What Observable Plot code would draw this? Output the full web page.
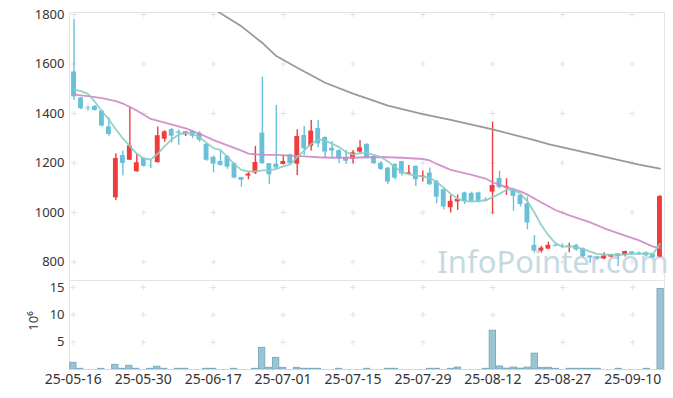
<!DOCTYPE html>
<html><head><meta charset="utf-8">
<script src="https://cdn.jsdelivr.net/npm/d3@7"></script>
<script src="https://cdn.jsdelivr.net/npm/@observablehq/plot@0.6"></script>
<style>
html,body{margin:0;padding:0;background:#fff;}
#chart{position:relative;width:673px;height:398px;overflow:hidden;font-family:"Noto Sans",sans-serif;}
#chart svg{position:absolute;left:0;overflow:visible;}
</style></head><body><div id="chart"></div>
<script>
const dates = ["25-05-16","25-05-19","25-05-20","25-05-21","25-05-22","25-05-23","25-05-26","25-05-27","25-05-28","25-05-29",
"25-05-30","25-06-02","25-06-04","25-06-05","25-06-09","25-06-10","25-06-11","25-06-12","25-06-13","25-06-16",
"25-06-17","25-06-18","25-06-19","25-06-20","25-06-23","25-06-24","25-06-25","25-06-26","25-06-27","25-06-30",
"25-07-01","25-07-02","25-07-03","25-07-04","25-07-07","25-07-08","25-07-09","25-07-10","25-07-11","25-07-14",
"25-07-15","25-07-16","25-07-17","25-07-18","25-07-21","25-07-22","25-07-23","25-07-24","25-07-25","25-07-28",
"25-07-29","25-07-30","25-07-31","25-08-01","25-08-04","25-08-05","25-08-06","25-08-07","25-08-08","25-08-11",
"25-08-12","25-08-13","25-08-14","25-08-18","25-08-19","25-08-20","25-08-21","25-08-22","25-08-25","25-08-26",
"25-08-27","25-08-28","25-08-29","25-09-01","25-09-02","25-09-03","25-09-04","25-09-05","25-09-08","25-09-09",
"25-09-10","25-09-11","25-09-12","25-09-15","25-09-16"];
const open = [1568,1463,1422,1428,1409,1346,1059,1230,1211,1164,
1218,1190,1201,1296,1335,1325,1314,1327,1320,1275,
1223,1206,1226,1197,1141,1147,1159,1321,1197,1195,
1194,1233,1195,1311,1267,1339,1303,1260,1250,1221,
1215,1244,1275,1226,1199,1179,1194,1205,1155,1186,
1142,1159,1125,1092,1019,1042,1079,1077,1079,1051,
1082,1137,1098,1093,1069,1035,867,844,852,867,
866,864,867,853,824,820,812,820,832,828,
840,837,837,829,820];
const high = [1781,1465,1430,1432,1413,1383,1237,1248,1426,1237,
1221,1211,1345,1330,1339,1333,1327,1331,1326,1278,
1228,1250,1230,1200,1142,1163,1267,1547,1198,1432,
1230,1235,1334,1347,1372,1372,1306,1287,1253,1250,
1250,1291,1278,1230,1206,1183,1197,1207,1190,1189,
1167,1180,1129,1096,1069,1071,1082,1082,1082,1059,
1365,1167,1136,1098,1073,1062,907,863,880,871,
873,876,871,856,825,823,837,830,834,843,
842,840,840,833,1067];
const low = [1452,1415,1410,1410,1345,1308,1048,1147,1210,1163,
1183,1178,1200,1284,1281,1271,1307,1298,1284,1207,
1160,1187,1174,1136,1102,1132,1153,1194,1113,1170,
1193,1194,1149,1230,1248,1261,1221,1221,1197,1194,
1197,1234,1217,1194,1170,1113,1132,1146,1153,1105,
1123,1109,1035,1011,998,1008,1032,1042,1038,1043,
992,1096,1069,1005,1022,930,836,836,849,860,
855,837,843,817,795,809,809,817,782,820,
826,826,820,817,818];
const close = [1467,1419,1419,1412,1349,1315,1218,1198,1269,1201,
1187,1188,1310,1326,1308,1320,1325,1308,1292,1211,
1196,1190,1183,1139,1130,1155,1202,1197,1152,1180,
1206,1197,1307,1257,1329,1277,1244,1248,1219,1207,
1241,1261,1221,1197,1174,1123,1139,1156,1160,1132,
1147,1112,1062,1022,1045,1053,1044,1044,1042,1046,
1109,1100,1105,1065,1032,957,844,856,867,864,
864,866,849,822,816,813,824,828,822,842,
830,835,825,817,1065];
// volume in millions
const volume = [1.22,0.12,0,0,0.12,0,0.85,0.12,0.67,0.12,
0,0.12,0.5,0.12,0,0.12,0.12,0,0,0.12,
0.12,0,0,0.12,0,0,0.12,3.96,0.3,2.13,
0.3,0,0.3,0.12,0.12,0.12,0,0,0.12,0,
0,0,0.12,0,0,0.12,0.12,0,0,0,
0,0.12,0.12,0,0.12,0.35,0,0,0,0.12,
7.1,0.55,0.15,0.35,0.15,0.35,2.9,0.3,0.3,0.12,
0,0.12,0.12,0.12,0.12,0.12,0,0,0.12,0,
0,0,0.12,0,14.75];
const ma5 = [1496,1490,1479,1447,1409,1376,1335,1299,1268,1237,
1218,1214,1237,1268,1295,1315,1322,1318,1304,1281,
1260,1253,1224,1194,1172,1166,1166,1170,1170,1176,
1186,1194,1224,1250,1277,1295,1291,1277,1264,1244,
1234,1240,1240,1233,1224,1206,1183,1163,1154,1150,
1145,1140,1123,1100,1075,1055,1046,1044,1046,1049,
1062,1075,1092,1092,1075,1045,1000,948,908,876,
862,863,860,852,842,833,830,829,829,830,
833,833,833,833,873];
const ma20Idx = [0,2,4,6,7,8,9,10,11,13,16,18,20,22,24,25,27,29,31,33,35,37,39,41,44,47,50,51,52,54,57,59,60,62,64,65,67,69,71,74,76,79,81,83,84];
const ma20Val = [1476,1470,1462,1450,1440,1426,1412,1395,1378,1363,1340,1318,1292,1271,1250,1238,1233,1233,1230,1227,1223,1221,1221,1222,1224,1221,1216,1210,1196,1172,1152,1137,1122,1102,1085,1072,1040,1010,988,960,936,906,887,862,857];
const ma60Idx = [18,19,21,24,27,29,32,36,40,45,50,54,60,66,68,75,81,84];
const ma60Val = [1860,1840,1805,1752,1685,1632,1585,1524,1480,1432,1397,1374,1336,1292,1276,1232,1193,1177];
const priceTicks = [800,1000,1200,1400,1600,1800];
const volTicks = [5,10,15];
const volUnit = "10⁶";
const watermark = "InfoPointer.com";
const dateTicks = dates.filter((d, i) => i % 10 === 0);

const rows = dates.map((d, i) => ({date: d, open: open[i], high: high[i], low: low[i], close: close[i], volume: volume[i], ma5: ma5[i]}));
const ma20 = ma20Idx.map((k, j) => ({date: dates[k], v: ma20Val[j]}));
const ma60 = ma60Idx.map((k, j) => ({date: dates[k], v: ma60Val[j]}));
const priceGrid = dateTicks.flatMap(d => priceTicks.map(p => ({date: d, v: p})));
const volGrid = dateTicks.flatMap(d => volTicks.map(p => ({date: d, v: p})));
const RED = "#f03c3c", BLUE = "#68c1d8";
const col = d => d.close >= d.open ? RED : BLUE;
const font = '"Noto Sans", sans-serif';

const priceChart = Plot.plot({
  width: 673, height: 281,
  marginTop: 12, marginBottom: 1, marginLeft: 69, marginRight: 9,
  style: {fontFamily: font, fontSize: "12px", color: "#333", background: "transparent", overflow: "visible"},
  x: {type: "band", domain: dates, padding: 0.3},
  y: {domain: [725, 1808]},
  marks: [
    Plot.frame({stroke: "#e4e4e4"}),
    Plot.ruleX([0], {frameAnchor: "left", stroke: "#d6d6d6"}),
    Plot.dot(priceGrid, {x: "date", y: "v", symbol: "plus", r: 2, stroke: "#e2e2e2", strokeWidth: 1}),
    Plot.text([watermark], {frameAnchor: "bottom-right", text: d => d, textAnchor: "end", lineAnchor: "bottom", dx: 4, dy: -8, fontSize: 31, fill: "#c6d9e3"}),
    Plot.ruleX(rows, {x: "date", y1: "low", y2: "high", stroke: col, strokeWidth: 1.4}),
    Plot.barY(rows, {x: "date", y1: "open", y2: "close", fill: col, insetTop: 0, insetBottom: 0}),
    Plot.line(ma60, {x: "date", y: "v", stroke: "#999999", strokeWidth: 1.8, clip: true}),
    Plot.line(ma20, {x: "date", y: "v", stroke: "#cc88c8", strokeWidth: 1.8, strokeOpacity: 0.9}),
    Plot.line(rows, {x: "date", y: "ma5", stroke: "#88cdc1", strokeWidth: 1.8, strokeOpacity: 0.9}),
    Plot.axisY({ticks: priceTicks, tickSize: 0, tickPadding: 5, tickFormat: d => String(d), label: null, fontSize: 13, fill: "#333"}),
    Plot.axisX({ticks: [], label: null})
  ]
});

const volChart = Plot.plot({
  width: 673, height: 128,
  marginTop: 10, marginBottom: 29, marginLeft: 69, marginRight: 9,
  style: {fontFamily: font, fontSize: "12px", color: "#333", background: "transparent", overflow: "visible"},
  x: {type: "band", domain: dates, padding: 0.1},
  y: {domain: [0, 16.3]},
  marks: [
    Plot.frame({stroke: "#e4e4e4"}),
    Plot.ruleX([0], {frameAnchor: "left", stroke: "#d6d6d6"}),
    Plot.dot(volGrid, {x: "date", y: "v", symbol: "plus", r: 2, stroke: "#e2e2e2", strokeWidth: 1}),
    Plot.barY(rows, {x: "date", y: "volume", fill: "#9cc3d3", stroke: "#7cadc2", strokeWidth: 1}),
    Plot.ruleY([0], {stroke: "#d6d6d6"}),
    Plot.axisY({ticks: volTicks, tickSize: 0, tickPadding: 5, tickFormat: d => String(d), label: null, fontSize: 13, fill: "#333"}),
    Plot.text([volUnit], {frameAnchor: "left", text: d => d, rotate: -90, dx: -36, dy: -4, fontSize: 13, fill: "#333", textAnchor: "middle"}),
    Plot.axisX({ticks: dateTicks, tickSize: 0, tickPadding: 5, label: null, fontSize: 14, fill: "#333"})
  ]
});

const root = document.getElementById("chart");
priceChart.style.top = "0px";
volChart.style.top = "270px";
root.appendChild(priceChart);
root.appendChild(volChart);
</script>
</body></html>
